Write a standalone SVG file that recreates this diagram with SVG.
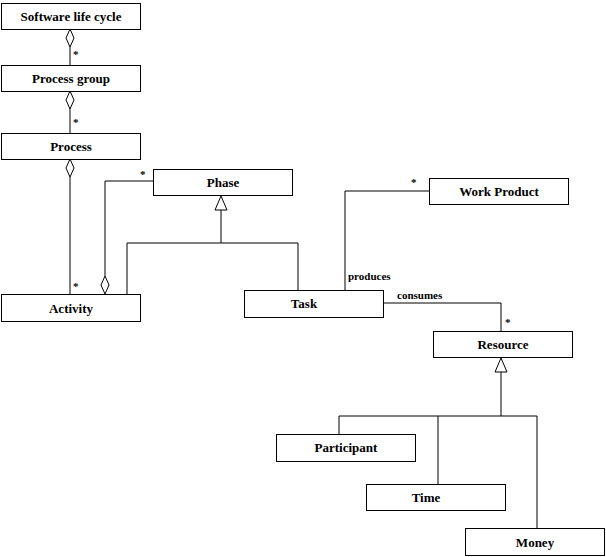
<svg xmlns="http://www.w3.org/2000/svg" width="606" height="557" viewBox="0 0 606 557">
<style>
.b{fill:#fff;stroke:#000;stroke-width:1}
.t{font-family:"Liberation Serif",serif;font-weight:bold;font-size:13px;text-anchor:middle}
.s{font-family:"Liberation Serif",serif;font-weight:bold;font-size:11px}
.l{fill:none;stroke:#000;stroke-width:1}
.d{fill:#fff;stroke:#000;stroke-width:1}
</style>
<rect width="606" height="557" fill="#fff"/>
<g id="connectors">
<path class="l" d="M70,47V65M70,109V133M70,177V294"/>
<path class="d" d="M70,29l-4,9 4,9 4,-9z M70,91l-4,9 4,9 4,-9z M70,159l-4,9 4,9 4,-9z"/>
<path class="l" d="M105,276V181H153"/>
<path class="d" d="M105,294l-4,-9 4,-9 4,9z"/>
<path class="l" d="M221,210V243M127,294V243H298V290"/>
<path class="d" d="M221,196l-6,14h12z"/>
<path class="l" d="M345,290V191H429"/>
<path class="l" d="M383,303H501V331"/>
<path class="l" d="M501,372V416M339,434V416H537V528M438,416V484"/>
<path class="d" d="M501,358l-6,14h12z"/>
<text class="s" x="73" y="58">*</text>
<text class="s" x="73" y="126">*</text>
<text class="s" x="73" y="290">*</text>
<text class="s" x="140" y="178">*</text>
<text class="s" x="411" y="186">*</text>
<text class="s" x="505" y="326">*</text>
<text class="s" x="348" y="280">produces</text>
<text class="s" x="397" y="299">consumes</text>
</g>
<g id="n1"><rect class="b" x="1.5" y="3.5" width="139" height="26"/><text class="t" x="71" y="21">Software life cycle</text></g>
<g id="n2"><rect class="b" x="1.5" y="65.5" width="139" height="26"/><text class="t" x="71" y="83">Process group</text></g>
<g id="n3"><rect class="b" x="1.5" y="133.5" width="139" height="26"/><text class="t" x="71" y="151">Process</text></g>
<g id="n4"><rect class="b" x="153.5" y="169.5" width="139" height="26"/><text class="t" x="223" y="187">Phase</text></g>
<g id="n5"><rect class="b" x="429.5" y="178.5" width="139" height="26"/><text class="t" x="499" y="196">Work Product</text></g>
<g id="n6"><rect class="b" x="1.5" y="294.5" width="139" height="27"/><text class="t" x="71" y="313">Activity</text></g>
<g id="n7"><rect class="b" x="244.5" y="290.5" width="139" height="27"/><text class="t" x="304" y="308">Task</text></g>
<g id="n8"><rect class="b" x="433.5" y="331.5" width="139" height="26"/><text class="t" x="503" y="349">Resource</text></g>
<g id="n9"><rect class="b" x="276.5" y="434.5" width="139" height="27"/><text class="t" x="346" y="452">Participant</text></g>
<g id="n10"><rect class="b" x="366.5" y="484.5" width="139" height="26"/><text class="t" x="426" y="502">Time</text></g>
<g id="n11"><rect class="b" x="465.5" y="528.5" width="139" height="27"/><text class="t" x="535" y="547">Money</text></g>
</svg>
